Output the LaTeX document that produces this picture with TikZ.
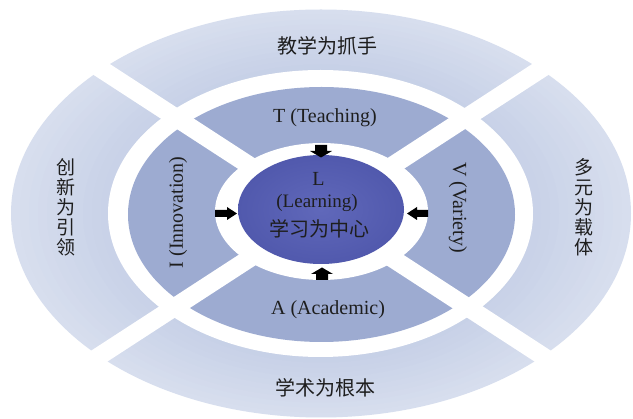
\documentclass[tikz,border=0pt]{standalone}
\usepackage{fontspec}
\setmainfont{Liberation Serif}
\newfontfamily\cjk{Noto Sans CJK SC}
\definecolor{outerOut}{HTML}{D7DEEE}
\definecolor{outerIn}{HTML}{C5CFE6}
\definecolor{midc}{HTML}{9DABD1}
\definecolor{coreIn}{HTML}{6068BA}
\definecolor{coreOut}{HTML}{5159AD}
\definecolor{txt}{HTML}{1E1E1E}
\begin{document}
\begin{tikzpicture}[x=1pt,y=-1pt,
  en/.style={font=\fontsize{20}{24}\selectfont, text=txt, inner sep=0pt},
  zh/.style={font=\cjk\fontsize{20}{24}\selectfont, text=txt, inner sep=0pt},
  zhv/.style={font=\cjk\fontsize{19}{20}\selectfont, text=txt, inner sep=0pt, align=center},
  gapline/.style={white, line width=18pt},
  arr/.style={fill=black}]
\useasboundingbox (0,0) rectangle (633,419);
\fill[white] (0,0) rectangle (633,419);
% outer ring with a soft gradient (light at the rim, darker inward)
\foreach \k in {0,...,12} {
  \pgfmathsetmacro\rx{310-9*\k}
  \pgfmathsetmacro\ry{204-5*\k}
  \pgfmathtruncatemacro\p{100-8*\k}
  \fill[outerOut!\p!outerIn] (321,213.5) ellipse [x radius=\rx pt, y radius=\ry pt];
}
\fill[white] (320.5,213.5) ellipse [x radius=212.5pt, y radius=143.5pt];
% middle ring
\fill[midc] (321.5,214.5) ellipse [x radius=193.5pt, y radius=127.5pt];
\fill[white] (321.5,211.5) ellipse [x radius=106.5pt, y radius=68.5pt];
% X-shaped gaps
\coordinate (c) at (321,212);
\draw[gapline] (c) ++(-340,-221) -- ++(680,442);
\draw[gapline] (c) ++(-340,221) -- ++(680,-442);
% core
\shade[inner color=coreIn, outer color=coreOut] (321,209.5) ellipse [x radius=83pt, y radius=54.5pt];
% arrows
\fill[arr] (215,210) -- (227,210) -- (227,207) -- (237,213.5) -- (227,220) -- (227,217) -- (215,217) -- cycle;
\fill[arr] (428,210) -- (417,210) -- (417,207) -- (407,213.5) -- (417,220) -- (417,217) -- (428,217) -- cycle;
\fill[arr] (315,145) -- (327,145) -- (327,151) -- (332,151) -- (321,157.5) -- (310,151) -- (315,151) -- cycle;
\fill[arr] (316,280) -- (328,280) -- (328,274) -- (333,274) -- (322,267.5) -- (311,274) -- (316,274) -- cycle;
% texts
\node[en] (t) at (325,117.5) {T (Teaching)};
\node[en] (a) at (328,310) {A (Academic)};
\node[en, rotate=90] (i) at (178,212.5) {I (Innovation)};
\node[en, rotate=-90] (v) at (458,207.5) {V (Variety)};
\node[en] (l1) at (318.5,179) {L};
\node[en, font=\fontsize{19}{22}\selectfont] (l2) at (317,203) {(Learning)};
\node[zh] (l3) at (319,229) {学习为中心};
\node[zh] (top) at (327,46) {教学为抓手};
\node[zh] (bot) at (325,388) {学术为根本};
\node[zhv] (lft) at (66,207) {创\\新\\为\\引\\领};
\node[zhv] (rgt) at (584,207) {多\\元\\为\\载\\体};
\end{tikzpicture}
\end{document}
